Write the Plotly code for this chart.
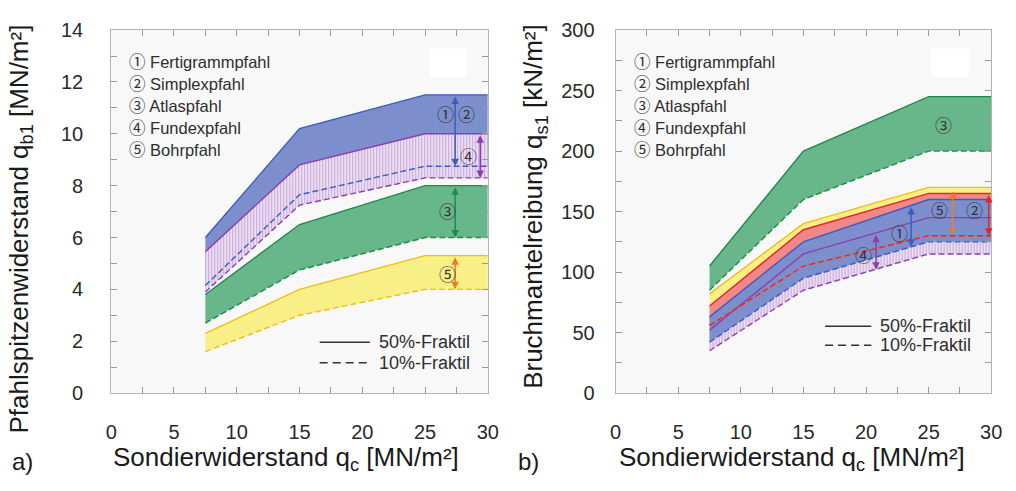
import plotly.graph_objects as go

# ---------------- data ----------------
x_qc = [7.5, 15, 25, 30]

# a) Pfahlspitzenwiderstand q_b1 [MN/m²]
a_fert_simplex_50 = [6.0, 10.2, 11.5, 11.5]
a_fert_simplex_10 = [4.15, 7.65, 8.75, 8.75]
a_fundex_50 = [5.45, 8.8, 10.0, 10.0]
a_fundex_10 = [3.9, 7.25, 8.3, 8.3]
a_atlas_50 = [3.8, 6.5, 8.0, 8.0]
a_atlas_10 = [2.7, 4.75, 6.0, 6.0]
a_bohr_50 = [2.3, 4.0, 5.3, 5.3]
a_bohr_10 = [1.6, 3.0, 4.0, 4.0]

# b) Bruchmantelreibung q_s1 [kN/m²]
b_atlas_50 = [105, 200, 245, 245]
b_atlas_10 = [85, 160, 200, 200]
b_bohr_50 = [82, 140, 170, 170]
b_bohr_10 = [56, 105, 130, 130]
b_simplex_50 = [72, 135, 165, 165]
b_simplex_10 = [56, 105, 130, 130]
b_fert_50 = [63, 125, 160, 160]
b_fert_10 = [42, 95, 125, 125]
b_fundex_50 = [52, 115, 145, 145]
b_fundex_10 = [35, 85, 115, 115]

legend_marks = ["①", "②", "③", "④", "⑤"]
legend_names = ["Fertigrammpfahl", "Simplexpfahl", "Atlaspfahl", "Fundexpfahl", "Bohrpfahl"]
fraktil_labels = ["50%-Fraktil", "10%-Fraktil"]

x_ticks = [0, 5, 10, 15, 20, 25, 30]
a_y_ticks = [0, 2, 4, 6, 8, 10, 12, 14]
b_y_ticks = [0, 50, 100, 150, 200, 250, 300]

# arrows: (x, y_top, y_bottom, colour key)
a_arrows = [(27.4, 11.5, 8.75, "blue"), (29.4, 10.0, 8.3, "purple"),
            (27.4, 8.0, 6.0, "green"), (27.4, 5.3, 4.0, "orange")]
b_arrows = [(23.6, 155, 121, "blue"), (20.8, 132, 102, "purple"),
            (26.9, 168, 131, "orange"), (29.8, 165, 130, "red")]
# circled labels: (text, x, y)
a_labels = [("①", 26.6, 10.8), ("②", 28.3, 10.8), ("④", 28.5, 9.15),
            ("③", 26.8, 7.05), ("⑤", 26.8, 4.6)]
b_labels = [("③", 26.2, 222), ("⑤", 25.9, 151.5), ("②", 28.7, 151.5),
            ("①", 22.7, 132.5), ("④", 19.8, 114.7)]

# ---------------- style ----------------
FONT = "Liberation Sans, Arial, sans-serif"
CIRC = "Noto Sans CJK JP, DejaVu Sans, sans-serif"
DASH = "6px,3px"
C = {
    "blue_fill": "#7c8ecb", "blue": "#3b5cc2",
    "purple": "#8b3fae", "purple_bg": "#ecdff1", "purple_fg": "#c6a6da",
    "green_fill": "#68b78b", "green": "#1f8a4c",
    "yellow_fill": "#f8ef86", "yellow": "#f2bd14",
    "red_fill": "#f28787", "red": "#e8242a",
    "orange": "#f07a22",
}

fig = go.Figure()


def band(xa, ya, lower, upper, color=None, pattern=None):
    fig.add_trace(go.Scatter(x=x_qc, y=lower, mode="lines", line=dict(width=0),
                             xaxis=xa, yaxis=ya, showlegend=False, hoverinfo="skip"))
    kw = dict(fill="tonexty")
    if pattern:
        kw["fillpattern"] = pattern
        kw["fillcolor"] = C["purple_bg"]
    else:
        kw["fillcolor"] = color
    fig.add_trace(go.Scatter(x=x_qc, y=upper, mode="lines", line=dict(width=0),
                             xaxis=xa, yaxis=ya, showlegend=False, hoverinfo="skip", **kw))


def line(xa, ya, y, color, dash="solid", width=1.4):
    fig.add_trace(go.Scatter(x=x_qc, y=y, mode="lines",
                             line=dict(color=color, width=width, dash=dash),
                             xaxis=xa, yaxis=ya, showlegend=False, hoverinfo="skip"))


hatch = dict(shape="|", bgcolor=C["purple_bg"], fgcolor=C["purple_fg"],
             size=3, solidity=0.35, fillmode="replace")

# ---- left panel ----
band("x", "y", a_fert_simplex_10, a_fert_simplex_50, C["blue_fill"])
band("x", "y", a_fundex_10, a_fundex_50, pattern=hatch)
band("x", "y", a_atlas_10, a_atlas_50, C["green_fill"])
band("x", "y", a_bohr_10, a_bohr_50, C["yellow_fill"])
line("x", "y", a_fert_simplex_50, C["blue"])
line("x", "y", a_fundex_50, C["purple"])
line("x", "y", a_fert_simplex_10, C["blue"], DASH)
line("x", "y", a_fundex_10, C["purple"], DASH)
line("x", "y", a_atlas_50, C["green"])
line("x", "y", a_atlas_10, C["green"], DASH)
line("x", "y", a_bohr_50, C["yellow"])
line("x", "y", a_bohr_10, C["yellow"], DASH)

# ---- right panel ----
band("x2", "y2", b_atlas_10, b_atlas_50, C["green_fill"])
band("x2", "y2", b_bohr_10, b_bohr_50, C["yellow_fill"])
band("x2", "y2", b_simplex_10, b_simplex_50, C["red_fill"])
band("x2", "y2", b_fundex_10, b_fundex_50, pattern=hatch)
band("x2", "y2", b_fert_10, b_fert_50, C["blue_fill"])
line("x2", "y2", b_atlas_50, C["green"])
line("x2", "y2", b_atlas_10, C["green"], DASH)
line("x2", "y2", b_bohr_50, C["yellow"])
line("x2", "y2", b_simplex_50, C["red"])
line("x2", "y2", b_fert_50, C["blue"])
line("x2", "y2", b_fundex_50, C["purple"])
line("x2", "y2", b_bohr_10, C["orange"], DASH)
line("x2", "y2", b_simplex_10, C["red"], DASH)
line("x2", "y2", b_fert_10, C["blue"], DASH)
line("x2", "y2", b_fundex_10, C["purple"], DASH)

# ---------------- axes ----------------
W, H = 1016, 491
axis_common = dict(showgrid=False, zeroline=False, showline=True, linecolor="#b4b4b4",
                   linewidth=1, mirror="ticks", ticks="inside", ticklen=6,
                   tickcolor="#9a9a9a", tickfont=dict(family=FONT, size=20, color="#2a2a2a"))

ydom = [1 - 400 / H, 1 - 20 / H]
fig.update_layout(
    xaxis=dict(domain=[107 / W, 490 / W], range=[0, 30], tickvals=x_ticks,
               minor=dict(dtick=2.5, ticks="inside", ticklen=6, tickcolor="#9a9a9a"),
               ticklabelstandoff=21, anchor="y", **axis_common),
    yaxis=dict(domain=ydom, range=[0, 14], tickvals=a_y_ticks,
               minor=dict(dtick=1, ticks="inside", ticklen=6, tickcolor="#9a9a9a"),
               ticklabelstandoff=23, anchor="x", **axis_common),
    xaxis2=dict(domain=[620 / W, 1002 / W], range=[0, 30], tickvals=x_ticks,
                minor=dict(dtick=2.5, ticks="inside", ticklen=6, tickcolor="#9a9a9a"),
                ticklabelstandoff=21, anchor="y2", **axis_common),
    yaxis2=dict(domain=ydom, range=[0, 300], tickvals=b_y_ticks,
                minor=dict(dtick=25, ticks="inside", ticklen=6, tickcolor="#9a9a9a"),
                ticklabelstandoff=16, anchor="x2", **axis_common),
    width=W, height=H, margin=dict(l=0, r=0, t=0, b=0),
    paper_bgcolor="white", plot_bgcolor="#f8f8f8",
    showlegend=False,
)

# white patches top-right inside plots (as in reference)
for xr, yr, x0, x1 in (("x domain", "y domain", 0.845, 0.945), ("x2 domain", "y2 domain", 0.84, 0.94)):
    fig.add_shape(type="rect", xref=xr, yref=yr, x0=x0, x1=x1, y0=0.87, y1=0.95,
                  fillcolor="white", line=dict(width=0), layer="below")

TXT = "#1a1a1a"
ann = []
# axis titles
ann.append(dict(text="Pfahlspitzenwiderstand q<sub>b1</sub> [MN/m²]", x=15 / W, y=1 - 228 / H,
                textangle=-90, font=dict(size=26, color=TXT, family=FONT)))
ann.append(dict(text="Bruchmantelreibung q<sub>s1</sub> [kN/m²]", x=538 / W, y=1 - 204 / H,
                textangle=-90, font=dict(size=26, color=TXT, family=FONT)))
ann.append(dict(text="Sondierwiderstand q<sub>c</sub> [MN/m²]", x=285 / W, y=1 - 469 / H,
                font=dict(size=26, color=TXT, family=FONT)))
ann.append(dict(text="Sondierwiderstand q<sub>c</sub> [MN/m²]", x=799 / W, y=1 - 469 / H,
                font=dict(size=26, color=TXT, family=FONT)))
ann.append(dict(text="a)", x=17 / W, y=1 - 472 / H, font=dict(size=24, color=TXT, family=FONT)))
ann.append(dict(text="b)", x=531 / W, y=1 - 472 / H, font=dict(size=24, color=TXT, family=FONT)))
for a in ann:
    a.update(xref="paper", yref="paper", showarrow=False, xanchor="center", yanchor="middle")

# legend texts
leg_y = [52, 75, 98, 121, 144]
for xr, x0 in (("x domain", 16 / 383), ("x2 domain", 17 / 382)):
    for mark, name, py in zip(legend_marks, legend_names, leg_y):
        txt = f'<span style="font-family:{CIRC}">{mark}</span> {name}'
        ann.append(dict(text=txt, xref=xr, yref="paper", x=x0, y=1 - py / H, xanchor="left",
                        yanchor="middle", showarrow=False,
                        font=dict(size=16.5, color="#2e2e2e", family=FONT)))

# Fraktil legend (line samples + text)
for xr, ya, fx0, fx1, ys in (("x domain", "y domain", 212 / 383, 263 / 383, (346.7, 368.3)),
                             ("x2 domain", "y2 domain", 213 / 382, 260 / 382, (330, 350))):
    for lab, dash, py in zip(fraktil_labels, ("solid", "8px,5px"), ys):
        yd = (400 - py) / 380
        fig.add_shape(type="line", xref=xr, yref=ya, x0=fx0, x1=fx1, y0=yd, y1=yd,
                      line=dict(color="#333333", width=1.5, dash=dash))
        ann.append(dict(text=lab, xref=xr, yref=ya, x=fx1 + 7 / 383, y=yd, xanchor="left",
                        yanchor="middle", showarrow=False,
                        font=dict(size=18, color="#2e2e2e", family=FONT)))

# arrows
for xa, ya, arrows in (("x", "y", a_arrows), ("x2", "y2", b_arrows)):
    for x, ytop, ybot, col in arrows:
        ann.append(dict(x=x, y=ybot, ax=x, ay=ytop, xref=xa, yref=ya, axref=xa, ayref=ya,
                        text="", showarrow=True, arrowside="end+start", arrowhead=2,
                        arrowsize=1, arrowwidth=1.5, arrowcolor=C[col]))

# circled labels
for xa, ya, labels in (("x", "y", a_labels), ("x2", "y2", b_labels)):
    for t, x, y in labels:
        ann.append(dict(text=t, x=x, y=y, xref=xa, yref=ya, showarrow=False,
                        font=dict(size=17, color="#333333", family=CIRC)))

fig.update_layout(annotations=ann)
fig.write_html("out.html")
